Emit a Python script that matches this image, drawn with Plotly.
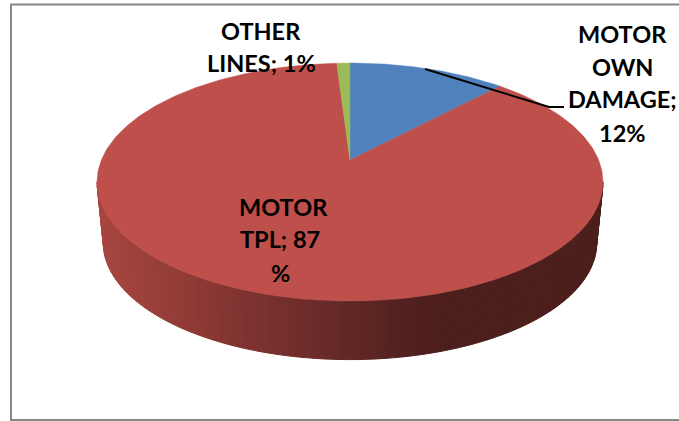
import numpy as np
import plotly.graph_objects as go

categories = ["MOTOR OWN DAMAGE", "MOTOR TPL", "OTHER LINES"]
shares = [12, 87, 1]
slice_colors = ["#4F81BD", "#BE4F4B", "#9BBB59"]
label_lines = [["MOTOR", "OWN", "DAMAGE;", "12%"], ["MOTOR", "TPL; 87", "%"], ["OTHER", "LINES; 1%"]]
label_x = [[622, 622, 622, 622], [283, 280, 280], [261, 261]]
label_y = [[34, 67, 99, 133], [207, 239, 273], [31, 63]]

W, H = 679, 421
APEX_X, APEX_Y = 350.0, 160.0
RADIUS, PITCH, PERSP = 248.6, 114.9, 0.185
RIM_MID_Y, WALL_MID_Y = 182.0, 243.0
WALL_SHRINK_X, WALL_SHRINK_Y = 0.975, 0.98
WALL_STOPS_X = [100, 200, 300, 400, 450, 610]
WALL_STOPS_RGB = [(168, 70, 64), (140, 57, 53), (112, 46, 43), (84, 34, 32), (76, 30, 28), (76, 30, 28)]


def rim(theta):
    d = 1 + PERSP * np.cos(theta)
    return APEX_X + RADIUS * np.sin(theta) / d, APEX_Y - PITCH * np.cos(theta) / d


def wall(theta):
    x, y = rim(theta)
    return APEX_X + (x - APEX_X) * WALL_SHRINK_X, WALL_MID_Y + (y - RIM_MID_Y) * WALL_SHRINK_Y


def wall_color(x):
    c = [np.interp(x, WALL_STOPS_X, [s[i] for s in WALL_STOPS_RGB]) for i in range(3)]
    return "rgb(%d,%d,%d)" % tuple(int(v) for v in c)


fig = go.Figure()

# Side wall of the disc, shaded strip by strip
t_side = np.arccos(-PERSP)
edges = np.linspace(2 * np.pi - t_side, t_side, 91)
for a, b in zip(edges[:-1], edges[1:]):
    tt = np.linspace(a, b, 3)
    x1, y1 = rim(tt)
    x2, y2 = wall(tt[::-1])
    col = wall_color(float(x1.mean()))
    fig.add_trace(go.Scatter(
        x=np.r_[x1, x2, x1[0]], y=np.r_[y1, y2, y1[0]], mode="lines", fill="toself",
        fillcolor=col, line=dict(color=col, width=1), hoverinfo="skip", showlegend=False))

# Top face slices
total = sum(shares)
start = 0.0
for name, val, col in zip(categories, shares, slice_colors):
    end = start + val / total * 2 * np.pi
    tt = np.linspace(start, end, max(8, int(val * 4)))
    xr, yr = rim(tt)
    fig.add_trace(go.Scatter(
        x=np.r_[APEX_X, xr, APEX_X], y=np.r_[APEX_Y, yr, APEX_Y], mode="lines", fill="toself",
        fillcolor=col, line=dict(color=col, width=0.5), name=name, hoverinfo="name", showlegend=False))
    start = end

# Leader line
fig.add_trace(go.Scatter(x=[425, 549, 564], y=[69, 107, 107], mode="lines",
                         line=dict(color="black", width=2), hoverinfo="skip", showlegend=False))

annotations = []
for lines, xs, ys in zip(label_lines, label_x, label_y):
    for t, x, y in zip(lines, xs, ys):
        annotations.append(dict(x=x, y=y, xref="x", yref="y", text="<b>%s</b>" % t, showarrow=False,
                                align="center", xanchor="center", yanchor="middle",
                                font=dict(family="Lato", size=23.5, color="#000000")))

fig.update_layout(
    width=W, height=H, autosize=False, margin=dict(l=0, r=0, t=0, b=0),
    paper_bgcolor="white", plot_bgcolor="white", annotations=annotations,
    xaxis=dict(range=[0, W], visible=False, fixedrange=True),
    yaxis=dict(range=[H, 0], visible=False, fixedrange=True),
    shapes=[dict(type="rect", xref="x", yref="y", x0=11, y0=4.5, x1=690, y1=420,
                 line=dict(color="#868686", width=2), layer="below")],
)
fig.write_html("out.html", config={"displayModeBar": False},
               post_script="document.body.style.margin='0';document.body.style.overflow='hidden';")
